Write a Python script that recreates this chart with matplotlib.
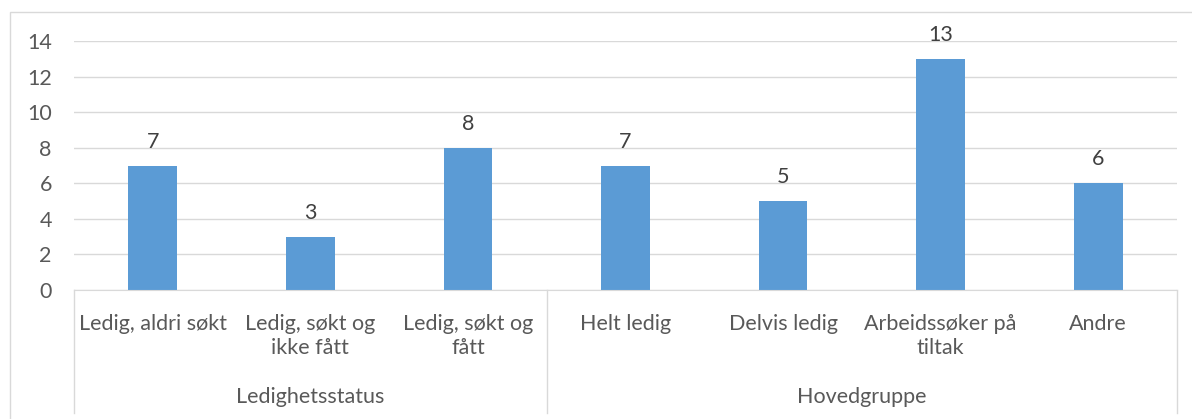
import matplotlib

matplotlib.use("Agg")
import matplotlib.pyplot as plt
from matplotlib.patches import Rectangle
from matplotlib.transforms import blended_transform_factory

BAR = "#5b9bd5"
GRID = "#d9d9d9"
TICK = "#595959"
LABEL = "#404040"

categories = [
    "Ledig, aldri søkt",
    "Ledig, søkt og\nikke fått",
    "Ledig, søkt og\nfått",
    "Helt ledig",
    "Delvis ledig",
    "Arbeidssøker på\ntiltak",
    "Andre",
]
values = [7, 3, 8, 7, 5, 13, 6]
groups = ["Ledighetsstatus", "Hovedgruppe"]
group_sizes = [3, 4]
yticks = [0, 2, 4, 6, 8, 10, 12, 14]

FS = 15.5

plt.rcParams.update({
    "font.family": ["Lato", "DejaVu Sans"],
    "font.size": FS,
})

W, H = 1192, 419
fig = plt.figure(figsize=(W / 100, H / 100), dpi=100)

# chart area border
fig.patches.append(Rectangle((10 / W, -0.1), 1.2, 1.1 - 12 / H, transform=fig.transFigure,
                             fill=False, edgecolor=GRID, linewidth=1.0))

ax = fig.add_axes([74 / W, 1 - 290 / H, (1177 - 74) / W, (290 - 41) / H])
x = list(range(len(categories)))
bars = ax.bar(x, values, width=0.31, color=BAR, zorder=3)
ax.bar_label(bars, padding=10, fontsize=FS, color=LABEL)

ax.set_xlim(-0.5, len(categories) - 0.5)
ax.set_ylim(0, 14)
ax.set_yticks(yticks)
ax.grid(axis="y", color=GRID, linewidth=1.0)
ax.set_axisbelow(True)
for s in ("top", "right", "left"):
    ax.spines[s].set_visible(False)
ax.spines["bottom"].set_color(GRID)
ax.spines["bottom"].set_zorder(4)
ax.tick_params(axis="y", length=0, pad=16, labelsize=FS, labelcolor=TICK)
ax.tick_params(axis="x", length=0, pad=17, labelsize=FS, labelcolor=TICK)
ax.set_xticks(x)
ax.set_xticklabels(categories, linespacing=1.3)

# multi-level category axis
tr = blended_transform_factory(ax.transData, ax.transAxes)
depth = -(413 - 290) / (290 - 41)
edges = [-0.5]
for n in group_sizes:
    edges.append(edges[-1] + n)
for e in edges:
    ax.plot([e, e], [0, depth], transform=tr, color=GRID, linewidth=1.0, clip_on=False)
for g, a, b in zip(groups, edges[:-1], edges[1:]):
    ax.text((a + b) / 2, -(397 - 290) / (290 - 41), g, transform=tr, ha="center", va="center",
            fontsize=FS, color=TICK)

fig.savefig("out.png", dpi=100, facecolor="white")
